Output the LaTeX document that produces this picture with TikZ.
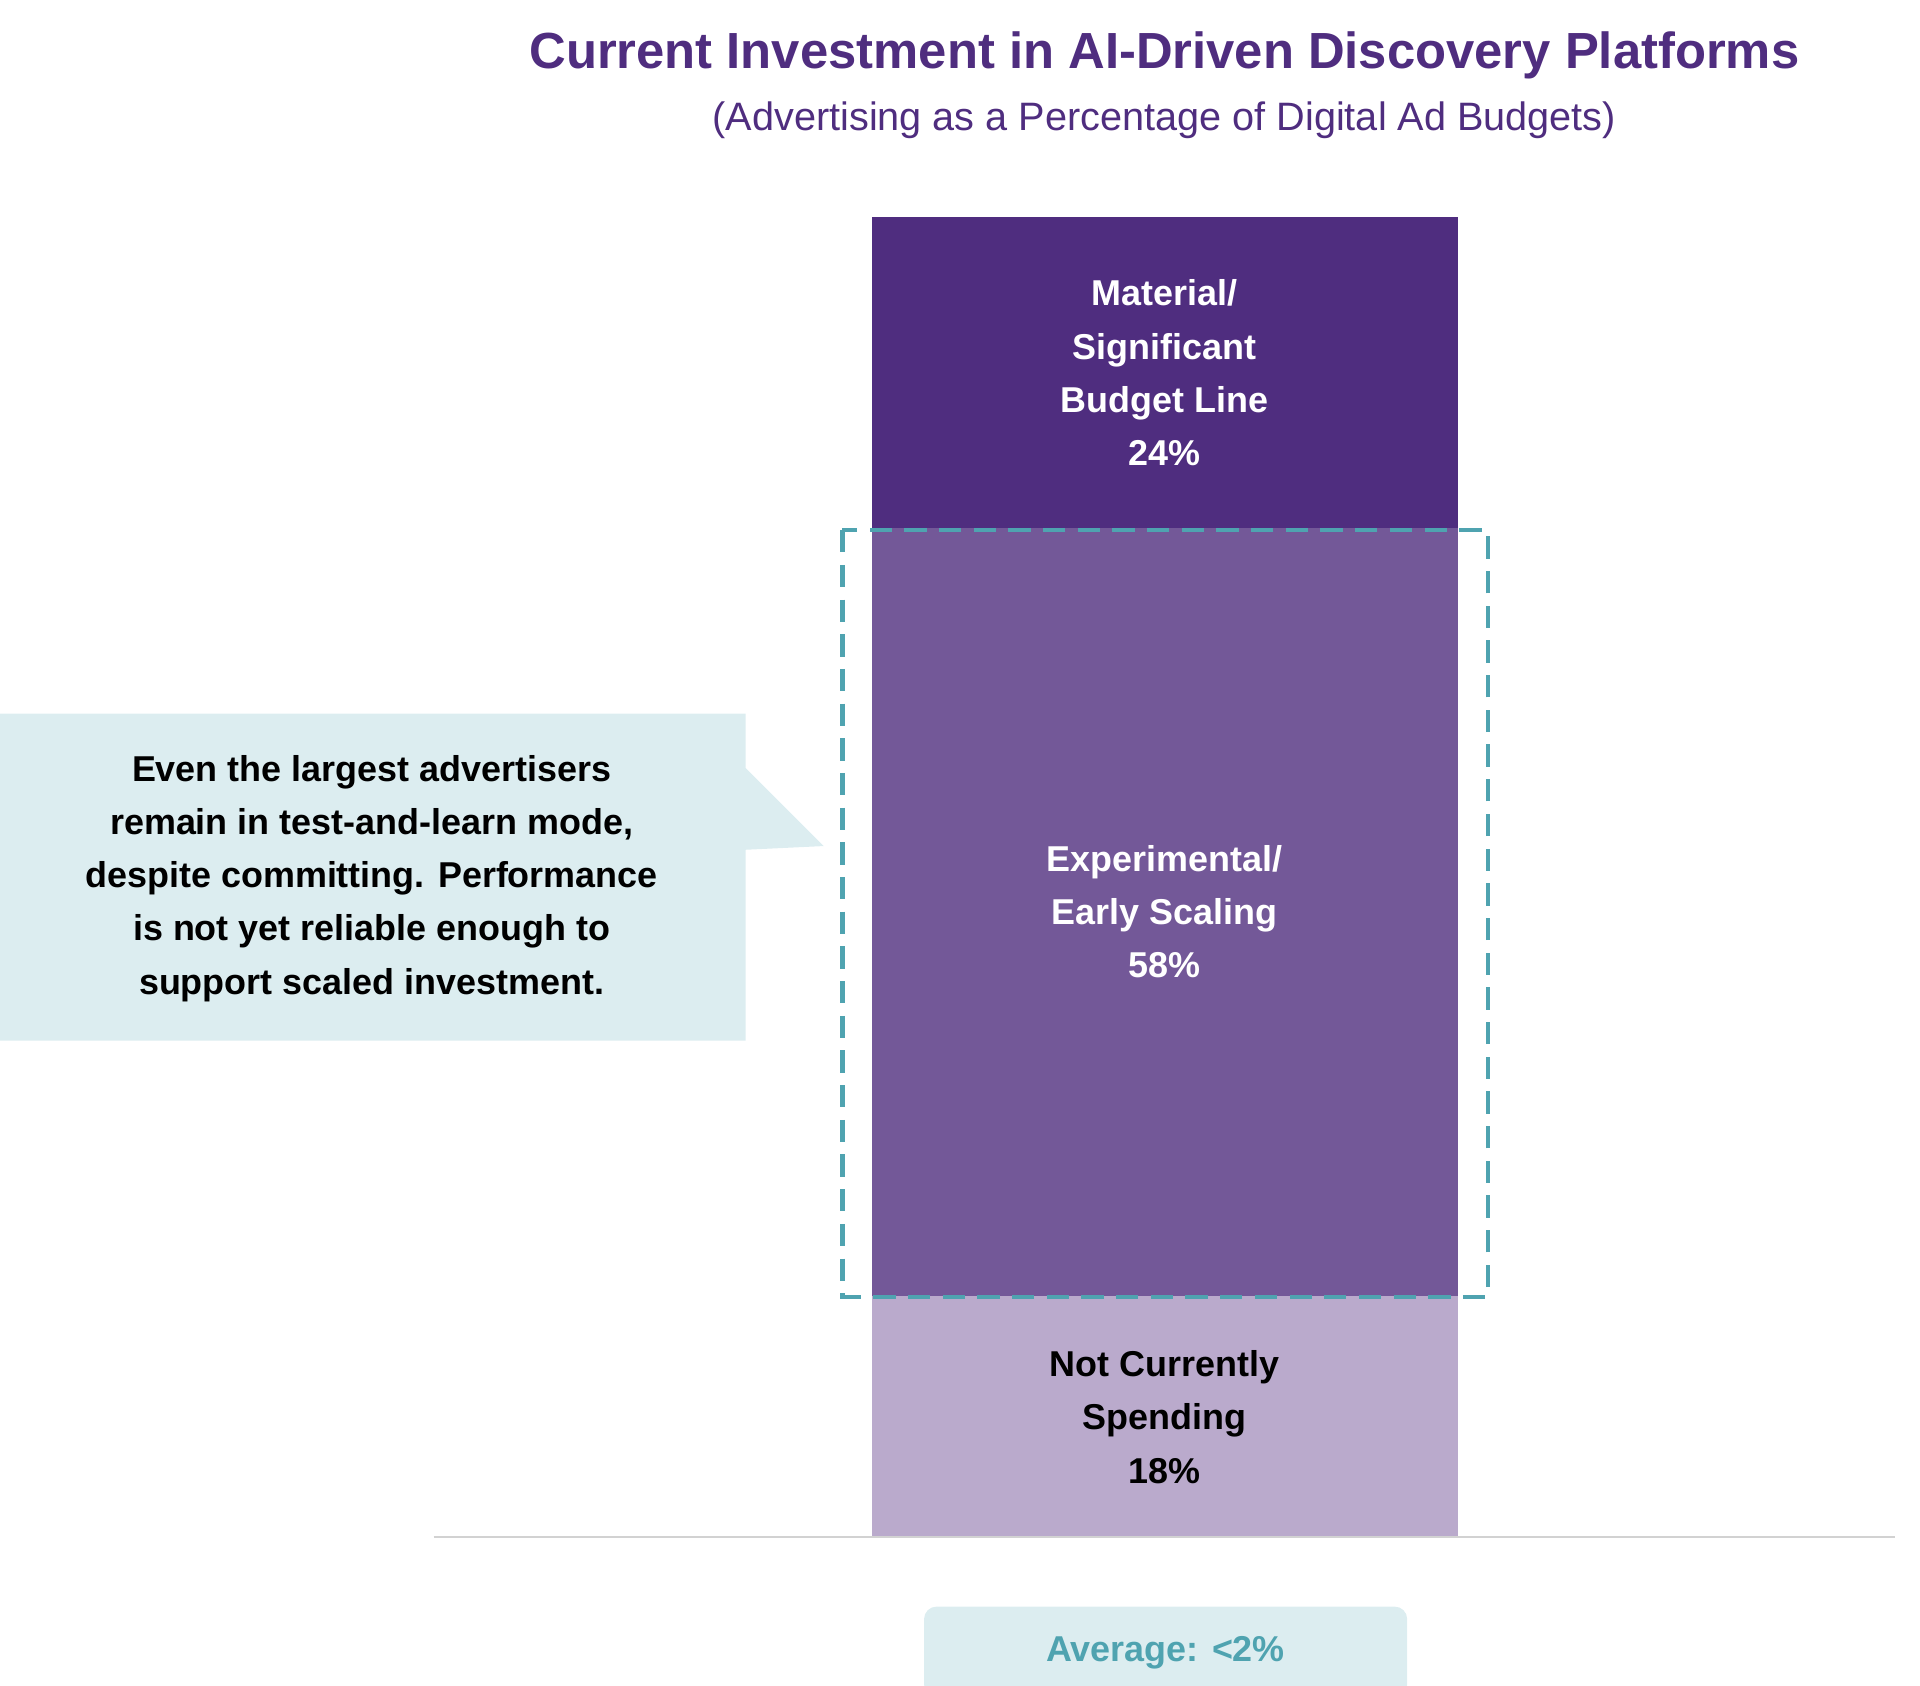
\documentclass[tikz,border=0pt]{standalone}
\usepackage{fontspec}
\setmainfont{Liberation Sans}
\definecolor{dpur}{HTML}{4F2D7F}
\definecolor{mpur}{HTML}{735898}
\definecolor{lpur}{HTML}{BAAACC}
\definecolor{teal}{HTML}{4FA3B0}
\definecolor{lteal}{HTML}{DCEDF0}
\begin{document}
\begin{tikzpicture}[x=1pt,y=-1pt,
  lbl/.style={font=\fontsize{29}{43}\selectfont\bfseries,align=center},
  seg/.style={draw=none}]
\useasboundingbox (0,0) rectangle (1550,1360.3);
\node[font=\fontsize{41}{48}\selectfont\bfseries,text=dpur] (title) at (940,45) {Current Investment in AI-Driven Discovery Platforms};
\node[font=\fontsize{32}{38}\selectfont,text=dpur] (sub) at (940,97) {(Advertising as a Percentage of Digital Ad Budgets)};
\fill[dpur] (704,175) rectangle (1177,426);
\fill[mpur] (704,426) rectangle (1177,1046);
\fill[lpur] (704,1046) rectangle (1177,1241);
\draw[gray!35,line width=2pt] (350,1241) -- (1530,1241);
\node[lbl,text=white] (top) at (940,301) {Material/\\Significant\\Budget Line\\24\%};
\node[lbl,text=white] (mid) at (940,736) {Experimental/\\Early Scaling\\58\%};
\node[lbl,text=black] (bot) at (940,1144) {Not Currently\\Spending\\18\%};
\draw[teal,line width=3.5pt,dash pattern=on 18pt off 10pt] (680,428) rectangle (1201,1047);
\fill[lteal] (0,576) -- (602,576) -- (602,620) -- (665,683) -- (602,686) -- (602,840) -- (0,840) -- cycle;
\node[lbl,text=black] (call) at (300,709) {Even the largest advertisers\\remain in test-and-learn mode,\\despite committing. Performance\\is not yet reliable enough to\\support scaled investment.};
\fill[lteal,rounded corners=10pt] (746,1297) rectangle (1136,1370);
\node[lbl,text=teal] (avg) at (941,1334) {Average: <2\%};
\end{tikzpicture}
\end{document}
